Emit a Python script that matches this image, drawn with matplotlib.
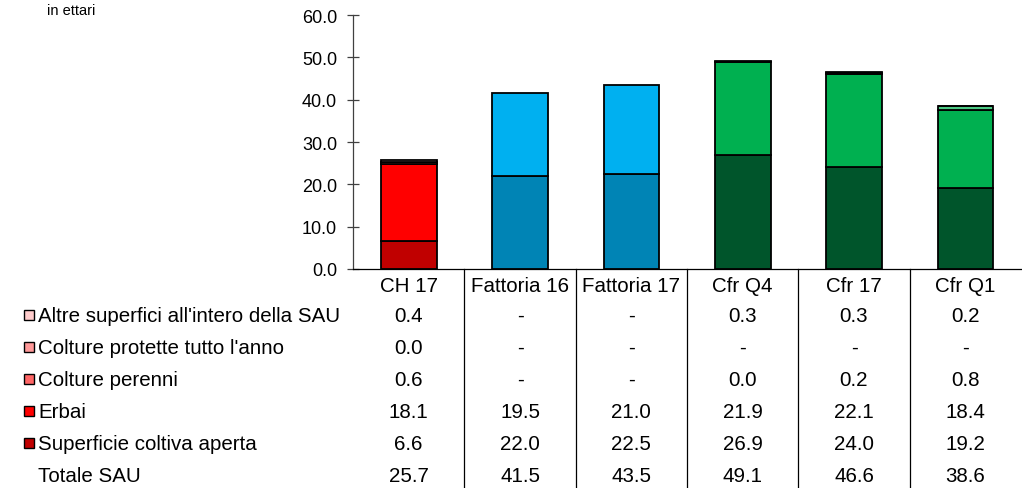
import matplotlib
matplotlib.use("Agg")
import matplotlib.pyplot as plt
from matplotlib.lines import Line2D
from matplotlib.patches import Rectangle
import matplotlib.transforms as mtransforms

plt.rcParams['font.family'] = ['Liberation Sans', 'DejaVu Sans']

categories = ['CH 17', 'Fattoria 16', 'Fattoria 17', 'Cfr Q4', 'Cfr 17', 'Cfr Q1']
superficie = [6.6, 22.0, 22.5, 26.9, 24.0, 19.2]
erbai = [18.1, 19.5, 21.0, 21.9, 22.1, 18.4]
perenni = [0.6, None, None, 0.0, 0.2, 0.8]
protette = [0.0, None, None, None, None, None]
altre = [0.4, None, None, 0.3, 0.3, 0.2]
totale = [25.7, 41.5, 43.5, 49.1, 46.6, 38.6]

series_names = ['Superficie coltiva aperta', 'Erbai', 'Colture perenni',
                'Colture protette tutto l\'anno', 'Altre superfici all\'intero della SAU']
series_values = [superficie, erbai, perenni, protette, altre]

red_shades = ['#C00000', '#FF0000', '#FF6666', '#FF9999', '#FFCCCC']
blue_shades = ['#0084B5', '#00B0F0', '#66D0F6', '#99DFF9', '#CCEFFC']
green_shades = ['#00552B', '#00B050', '#4DC884', '#99DFB9', '#CCEFDC']
palette_per_cat = [red_shades, blue_shades, blue_shades, green_shades, green_shades, green_shades]

W, H = 1022, 489
fig = plt.figure(figsize=(W / 100, H / 100), dpi=100)
ax = fig.add_axes([353 / W, 1 - 270 / H, (1021 - 353) / W, (270 - 16) / H])

bottoms = [0.0] * len(categories)
for s_idx, vals in enumerate(series_values):
    for i, v in enumerate(vals):
        if v is None:
            continue
        ax.bar(i, v, width=0.5, bottom=bottoms[i], color=palette_per_cat[i][s_idx],
               edgecolor='black', linewidth=1.3, zorder=3)
        bottoms[i] += v

yt = [0, 10, 20, 30, 40, 50, 60]
ax.set_xlim(-0.5, len(categories) - 0.5)
ax.set_ylim(0, 60)
ax.set_yticks(yt)
ax.set_yticklabels([f'{t:.1f}' for t in yt], fontsize=13)
ax.tick_params(axis='y', direction='inout', length=8, width=0.9, color='#404040', pad=7.5)
ax.set_xticks([])
for sp in ['top', 'right']:
    ax.spines[sp].set_visible(False)
ax.spines['left'].set_color('#404040')
ax.spines['left'].set_linewidth(0.9)
ax.spines['bottom'].set_color('black')
ax.spines['bottom'].set_linewidth(0.9)

# table separators
trans = mtransforms.blended_transform_factory(ax.transData, fig.transFigure)
for b in [0.5, 1.5, 2.5, 3.5, 4.5]:
    fig.add_artist(Line2D([b, b], [1 - 270 / H, 0], transform=trans, color='black',
                          linewidth=0.9, clip_on=False))

fs = 14.8
# header
for i, c in enumerate(categories):
    fig.text(i, 1 - 292 / H, c, transform=trans, ha='center', va='baseline', fontsize=fs)

row_y = [322, 354, 386, 418, 450, 482]
row_labels = series_names[::-1] + ['Totale SAU']
row_data = series_values[::-1] + [totale]
row_colors = red_shades[::-1] + [None]
for r, (lab, vals, col) in enumerate(zip(row_labels, row_data, row_colors)):
    yf = 1 - row_y[r] / H
    if col is not None:
        fig.add_artist(Rectangle((23.5 / W, yf + 1 / H), 10 / W, 10 / H, transform=fig.transFigure,
                                 facecolor=col, edgecolor='black', linewidth=1.0))
    fig.text(38 / W, yf, lab, ha='left', va='baseline', fontsize=fs)
    for i, v in enumerate(vals):
        s = '-' if v is None else f'{v:.1f}'
        fig.text(i, yf, s, transform=trans, ha='center', va='baseline', fontsize=fs)

fig.text(47 / W, 1 - 15 / H, 'in ettari', ha='left', va='baseline', fontsize=10.5)
fig.text(1010 / W, -4 / H, '1 / 1', ha='center', va='center', fontsize=8)

fig.savefig('out.png', dpi=100)
